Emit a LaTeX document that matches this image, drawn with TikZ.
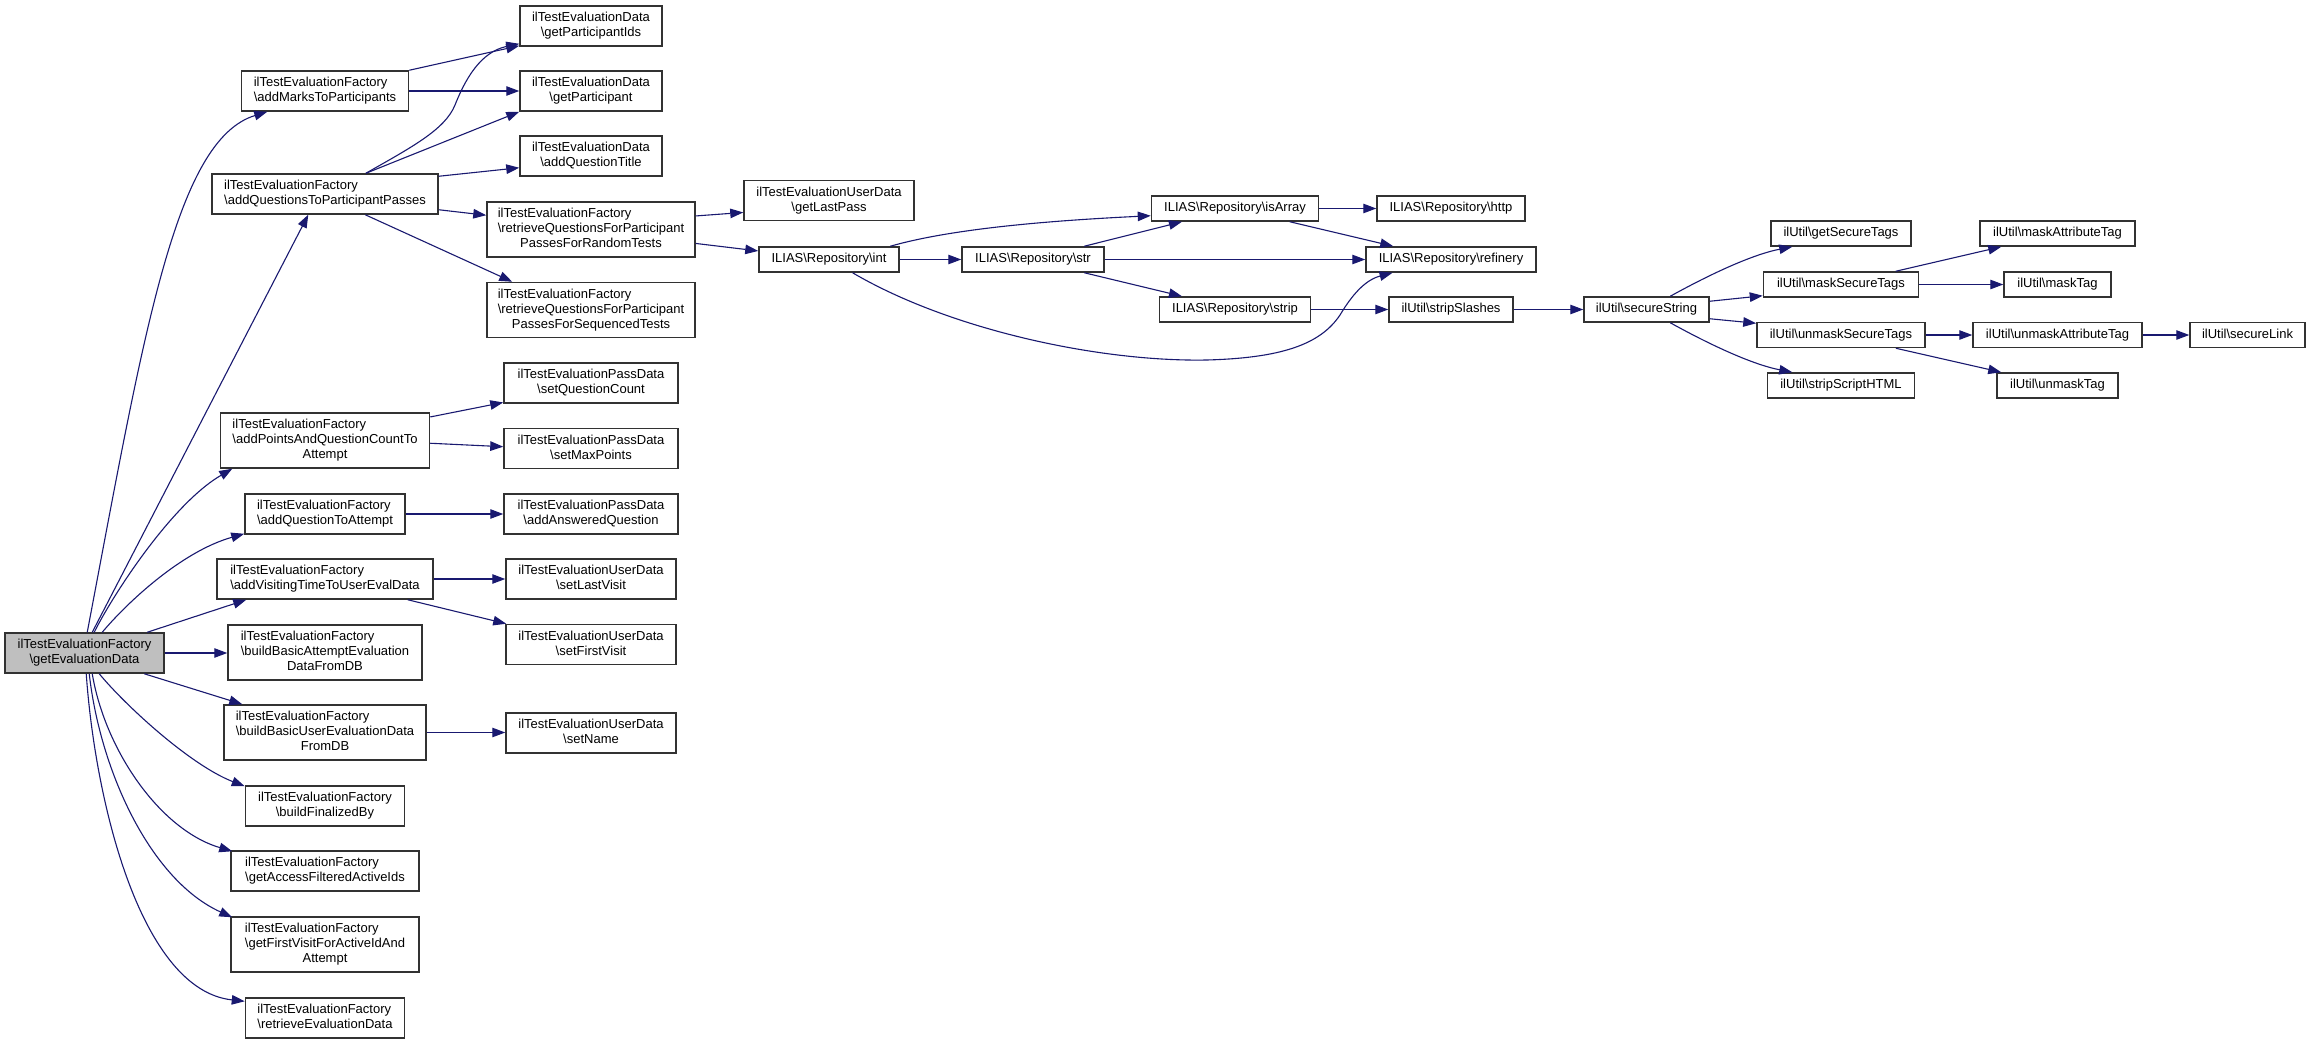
\documentclass[tikz,border=0pt]{standalone}
\usepackage{fontspec}
\setmainfont{Liberation Sans}
\usetikzlibrary{arrows.meta}
\definecolor{mblue}{RGB}{25,25,112}
\definecolor{nodeborder}{RGB}{50,50,50}
\definecolor{grayfill}{RGB}{191,191,191}
\newcommand\bsl{\textbackslash}
\newcommand\lbA[2]{\begin{tabular}{@{}l@{}}#1\\\multicolumn{1}{@{}c@{}}{#2}\end{tabular}}
\newcommand\lbB[3]{\begin{tabular}{@{}l@{}}#1\\#2\\\multicolumn{1}{@{}c@{}}{#3}\end{tabular}}
\begin{document}
\begin{tikzpicture}[x=1pt,y=-1pt,
  box/.style={draw=nodeborder, line width=1.5pt, fill=white, inner sep=0pt,
    font=\fontsize{13}{15}\selectfont},
  one/.style={box, text height=9.5pt, text depth=2.8pt},
  cg/.style={draw=mblue, line width=1.1pt, -{Triangle[length=13pt,width=9.5pt]}}]
\useasboundingbox (0,0) rectangle (2311,1044);
\fill[white] (0,0) rectangle (2311,1044);

% column 1
\node[box, fill=grayfill, minimum width=159pt, minimum height=40pt] (gE) at (84.5,653) {\lbA{ilTestEvaluationFactory}{\bsl getEvaluationData}};

% column 2
\node[box, minimum width=167pt, minimum height=40pt] (aM) at (325,91) {\lbA{ilTestEvaluationFactory}{\bsl addMarksToParticipants}};
\node[box, minimum width=226pt, minimum height=40pt] (addQTP) at (325,194) {\lbA{ilTestEvaluationFactory}{\bsl addQuestionsToParticipantPasses}};
\node[box, minimum width=209pt, minimum height=55pt] (addPts) at (325,440.5) {\lbB{ilTestEvaluationFactory}{\bsl addPointsAndQuestionCountTo}{Attempt}};
\node[box, minimum width=160pt, minimum height=40pt] (addQA) at (325,514) {\lbA{ilTestEvaluationFactory}{\bsl addQuestionToAttempt}};
\node[box, minimum width=216pt, minimum height=40pt] (addVT) at (325,579) {\lbA{ilTestEvaluationFactory}{\bsl addVisitingTimeToUserEvalData}};
\node[box, minimum width=194pt, minimum height=55pt] (bBA) at (325,652.5) {\lbB{ilTestEvaluationFactory}{\bsl buildBasicAttemptEvaluation}{DataFromDB}};
\node[box, minimum width=202pt, minimum height=55pt] (bBU) at (325,732.5) {\lbB{ilTestEvaluationFactory}{\bsl buildBasicUserEvaluationData}{FromDB}};
\node[box, minimum width=159pt, minimum height=40pt] (bFB) at (325,806) {\lbA{ilTestEvaluationFactory}{\bsl buildFinalizedBy}};
\node[box, minimum width=188pt, minimum height=40pt] (gAF) at (325,871) {\lbA{ilTestEvaluationFactory}{\bsl getAccessFilteredActiveIds}};
\node[box, minimum width=188pt, minimum height=55pt] (gFV) at (325,944.5) {\lbB{ilTestEvaluationFactory}{\bsl getFirstVisitForActiveIdAnd}{Attempt}};
\node[box, minimum width=159pt, minimum height=40pt] (rED) at (325,1018) {\lbA{ilTestEvaluationFactory}{\bsl retrieveEvaluationData}};

% column 3
\node[box, minimum width=142pt, minimum height=40pt] (gPI) at (591,26) {\lbA{ilTestEvaluationData}{\bsl getParticipantIds}};
\node[box, minimum width=142pt, minimum height=40pt] (gP) at (591,91) {\lbA{ilTestEvaluationData}{\bsl getParticipant}};
\node[box, minimum width=142pt, minimum height=40pt] (addQT) at (591,156) {\lbA{ilTestEvaluationData}{\bsl addQuestionTitle}};
\node[box, minimum width=208pt, minimum height=55pt] (rRand) at (591,229.5) {\lbB{ilTestEvaluationFactory}{\bsl retrieveQuestionsForParticipant}{PassesForRandomTests}};
\node[box, minimum width=208pt, minimum height=55pt] (rSeq) at (591,310) {\lbB{ilTestEvaluationFactory}{\bsl retrieveQuestionsForParticipant}{PassesForSequencedTests}};
\node[box, minimum width=174pt, minimum height=40pt] (setQC) at (591,383) {\lbA{ilTestEvaluationPassData}{\bsl setQuestionCount}};
\node[box, minimum width=174pt, minimum height=40pt] (setMP) at (591,448.5) {\lbA{ilTestEvaluationPassData}{\bsl setMaxPoints}};
\node[box, minimum width=174pt, minimum height=40pt] (addAns) at (591,514) {\lbA{ilTestEvaluationPassData}{\bsl addAnsweredQuestion}};
\node[box, minimum width=170pt, minimum height=40pt] (setLV) at (591,579) {\lbA{ilTestEvaluationUserData}{\bsl setLastVisit}};
\node[box, minimum width=170pt, minimum height=40pt] (setFV) at (591,644.5) {\lbA{ilTestEvaluationUserData}{\bsl setFirstVisit}};
\node[box, minimum width=170pt, minimum height=40pt] (setName) at (591,733) {\lbA{ilTestEvaluationUserData}{\bsl setName}};

% column 4+
\node[box, minimum width=170pt, minimum height=40pt] (gLP) at (829,200.5) {\lbA{ilTestEvaluationUserData}{\bsl getLastPass}};
\node[one, minimum width=140pt, minimum height=25pt] (int) at (829,259.5) {ILIAS\bsl Repository\bsl int};
\node[one, minimum width=142pt, minimum height=25pt] (str) at (1033,259.5) {ILIAS\bsl Repository\bsl str};
\node[one, minimum width=167pt, minimum height=25pt] (isArray) at (1235,208.5) {ILIAS\bsl Repository\bsl isArray};
\node[one, minimum width=151pt, minimum height=25pt] (strip) at (1235,309.5) {ILIAS\bsl Repository\bsl strip};
\node[one, minimum width=148pt, minimum height=25pt] (http) at (1451,208.5) {ILIAS\bsl Repository\bsl http};
\node[one, minimum width=170pt, minimum height=25pt] (refinery) at (1451,259.5) {ILIAS\bsl Repository\bsl refinery};
\node[one, minimum width=124pt, minimum height=25pt] (stripSl) at (1451,309.5) {ilUtil\bsl stripSlashes};
\node[one, minimum width=125pt, minimum height=25pt] (secStr) at (1646.5,309.5) {ilUtil\bsl secureString};
\node[one, minimum width=140pt, minimum height=25pt] (getST) at (1841,233.5) {ilUtil\bsl getSecureTags};
\node[one, minimum width=155pt, minimum height=25pt] (maskST) at (1841,284.5) {ilUtil\bsl maskSecureTags};
\node[one, minimum width=168pt, minimum height=25pt] (unmST) at (1841,335) {ilUtil\bsl unmaskSecureTags};
\node[one, minimum width=147pt, minimum height=25pt] (stripSH) at (1841,385.5) {ilUtil\bsl stripScriptHTML};
\node[one, minimum width=155pt, minimum height=25pt] (maskAT) at (2057.5,233.5) {ilUtil\bsl maskAttributeTag};
\node[one, minimum width=107pt, minimum height=25pt] (maskTag) at (2057.5,284.5) {ilUtil\bsl maskTag};
\node[one, minimum width=169pt, minimum height=25pt] (unmAT) at (2057.5,335) {ilUtil\bsl unmaskAttributeTag};
\node[one, minimum width=121pt, minimum height=25pt] (unmTag) at (2057.5,385.5) {ilUtil\bsl unmaskTag};
\node[one, minimum width=115pt, minimum height=25pt] (secLink) at (2247.5,335) {ilUtil\bsl secureLink};

% edges from getEvaluationData
\draw[cg] ([xshift=83pt]gE.north west) .. controls (144,333) and (175,140) .. ([xshift=26.5pt]aM.south west);
\draw[cg] ([xshift=88pt]gE.north west) -- ([xshift=97pt]addQTP.south west);
\draw[cg] ([xshift=90pt]gE.north west) .. controls (110,600) and (170,505) .. ([xshift=12.5pt]addPts.south west);
\draw[cg] ([xshift=98pt]gE.north west) .. controls (125,605) and (180,552) .. ([yshift=1pt]addQA.south west);
\draw[cg] ([xshift=143pt]gE.north west) -- ([xshift=30pt]addVT.south west);
\draw[cg] (gE.east) -- (gE.east -| bBA.west);
\draw[cg] ([xshift=140pt]gE.south west) -- ([xshift=19pt]bBU.north west);
\draw[cg] ([xshift=95pt]gE.south west) .. controls (125,705) and (190,765) .. ([yshift=-1pt]bFB.north west);
\draw[cg] ([xshift=88pt]gE.south west) .. controls (105,750) and (160,830) .. ([xshift=2pt,yshift=-1pt]gAF.north west);
\draw[cg] ([xshift=85pt]gE.south west) .. controls (100,770) and (150,880) .. ([xshift=2pt,yshift=-1pt]gFV.north west);
\draw[cg] ([xshift=82pt]gE.south west) .. controls (95,800) and (140,990) .. ([yshift=-4pt]rED.north west);

% column 2 -> 3
\draw[cg] (aM.north east) -- ([yshift=1pt]gPI.south west);
\draw[cg] (aM.east) -- (gP.west);
\draw[cg] ([xshift=154.7pt]addQTP.north west) .. controls (410,148) and (445,130) .. (455,105) .. controls (465,80) and (480,52) .. ([yshift=3pt]gPI.south west);
\draw[cg] ([xshift=154.7pt]addQTP.north west) -- (gP.south west);
\draw[cg] ([yshift=-3pt]addQTP.north east) -- ([yshift=9pt]addQT.south west);
\draw[cg] ([yshift=5pt]addQTP.south east) -- ([yshift=-14pt]rRand.north west);
\draw[cg] ([xshift=154pt]addQTP.south west) -- ([xshift=26pt]rSeq.north west);
\draw[cg] ([yshift=-4.7pt]addPts.north east) -- ([yshift=1.3pt]setQC.south west);
\draw[cg] ([yshift=-31pt]addPts.north east) -- ([yshift=1.8pt]setMP.west);
\draw[cg] (addQA.east) -- (addAns.west);
\draw[cg] (addVT.east) -- (setLV.west);
\draw[cg] ([xshift=191.5pt]addVT.south west) -- ([xshift=1pt]setFV.north west);
\draw[cg] (bBU.east) -- (bBU.east -| setName.west);

% right part
\draw[cg] ([yshift=-14.7pt]rRand.north east) -- ([yshift=8.8pt]gLP.south west);
\draw[cg] ([yshift=14.3pt]rRand.south east) -- ([yshift=-4.7pt]int.north west);
\draw[cg] (int.east) -- (str.west);
\draw[cg] ([xshift=-9.5pt]int.north east) .. controls (940,232) and (1020,222) .. ([yshift=6pt]isArray.south west);
\draw[cg] ([xshift=94.3pt]int.south west) .. controls (950,330) and (1100,362) .. (1206.7,360) .. controls (1280,358) and (1320,345) .. (1340,315) .. controls (1352,295) and (1365,280) .. ([xshift=27.3pt]refinery.south west);
\draw[cg] ([xshift=123pt]str.north west) -- ([xshift=31.2pt]isArray.south west);
\draw[cg] (str.east) -- (refinery.west);
\draw[cg] ([xshift=123pt]str.south west) -- ([xshift=23.2pt]strip.north west);
\draw[cg] (isArray.east) -- (http.west);
\draw[cg] ([xshift=139pt]isArray.south west) -- ([xshift=28pt]refinery.north west);
\draw[cg] (strip.east) -- (stripSl.west);
\draw[cg] (stripSl.east) -- (secStr.west);
\draw[cg] ([xshift=87pt]secStr.north west) .. controls (1705,277) and (1750,255) .. ([xshift=22pt]getST.south west);
\draw[cg] ([yshift=-5pt]secStr.north east) -- ([yshift=2pt]maskST.south west);
\draw[cg] ([yshift=4pt]secStr.south east) -- ([yshift=-1.5pt]unmST.north west);
\draw[cg] ([xshift=87pt]secStr.south west) .. controls (1705,342) and (1750,364) .. ([xshift=25.5pt]stripSH.north west);
\draw[cg] ([xshift=133pt]maskST.north west) -- ([xshift=22pt]maskAT.south west);
\draw[cg] (maskST.east) -- (maskTag.west);
\draw[cg] (unmST.east) -- (unmAT.west);
\draw[cg] ([xshift=139.6pt]unmST.south west) -- ([xshift=5pt]unmTag.north west);
\draw[cg] (unmAT.east) -- (secLink.west);
\end{tikzpicture}
\end{document}
